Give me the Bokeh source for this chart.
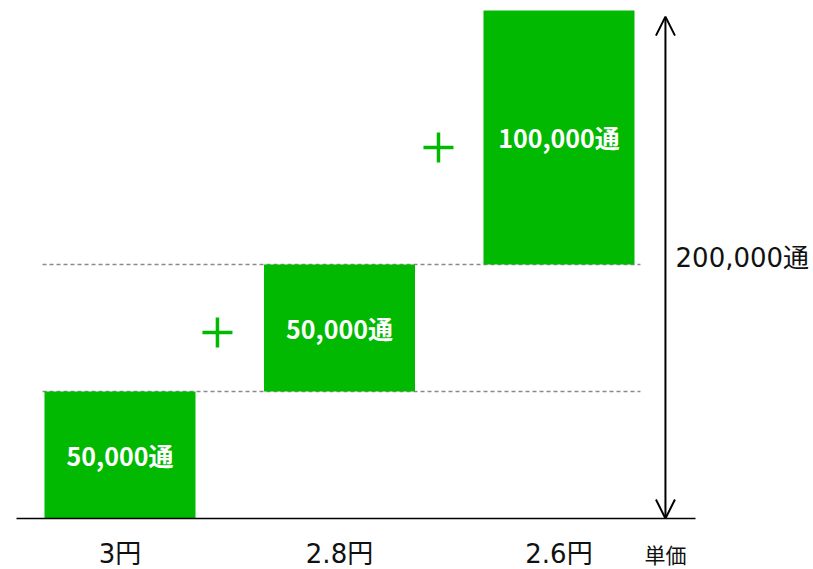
from bokeh.plotting import figure
from bokeh.models import Range1d, Arrow, OpenHead, ColumnDataSource
from bokeh.core.properties import value
from bokeh.embed import file_html
from bokeh.resources import INLINE

# data
categories = ["3円", "2.8円", "2.6円"]
volumes = [50000, 50000, 100000]
bar_labels = ["50,000通", "50,000通", "100,000通"]
total_label = "200,000通"
unit_label = "単価"

GREEN = "#00B900"
FONT = "DejaVu Sans, Noto Sans CJK JP"
BOLD_FONT = "Noto Sans CJK JP"

xs = list(range(len(categories)))
bottoms = []
acc = 0
for v in volumes:
    bottoms.append(acc)
    acc += v
tops = [b + v for b, v in zip(bottoms, volumes)]
mids = [(b + t) / 2 for b, t in zip(bottoms, tops)]
total = acc

p = figure(width=813, height=569, output_backend="svg", toolbar_location=None,
           x_range=Range1d(-0.5444, 3.1595), y_range=Range1d(-20079, 203937),
           x_axis_type=None, y_axis_type=None, min_border=0)
p.outline_line_color = None
p.xgrid.visible = False
p.ygrid.visible = False

# dashed guide lines at cumulative levels
for lvl in tops[:-1]:
    p.line([-0.353, 2.371], [lvl, lvl], line_color="#8a8a8a", line_width=1.3, line_dash="4 3")

src = ColumnDataSource(dict(x=xs, bottom=bottoms, top=tops, mid=mids, lab=bar_labels, cat=categories))
p.vbar(x="x", width=0.688, bottom="bottom", top="top", source=src, fill_color=GREEN, line_color=None)
p.text(x="x", y="mid", text="lab", source=src, text_color="white", text_font=value(BOLD_FONT),
       text_font_style="bold", text_font_size="25px", text_align="center", text_baseline="middle")

# baseline
p.line([-0.4715, 2.622], [0, 0], line_color="black", line_width=1.5)

# category labels
p.text(x="x", y=-13780, text="cat", source=src, text_color="#111111", text_font=value(FONT),
       text_font_size="26px", text_align="center", text_baseline="middle")
p.text(x=[2.485], y=[-14600], text=[unit_label], text_color="#111111", text_font=value(FONT),
       text_font_size="21px", text_align="center", text_baseline="middle")

# plus signs
p.scatter(x=[0.444, 1.451], y=[73228, 146063], marker="cross", size=30, line_color=GREEN, line_width=3.5)

# double arrow
p.add_layout(Arrow(x_start=2.485, y_start=0, x_end=2.485, y_end=total * 0.988,
                   start=OpenHead(size=19, line_width=2, line_color="black"),
                   end=OpenHead(size=19, line_width=2, line_color="black"),
                   line_width=2, line_color="black"))
p.text(x=[2.531], y=[102559], text=[total_label], text_color="#111111", text_font=value(FONT),
       text_font_size="26px", text_align="left", text_baseline="middle")

open("out.html", "w").write(file_html(p, INLINE))
